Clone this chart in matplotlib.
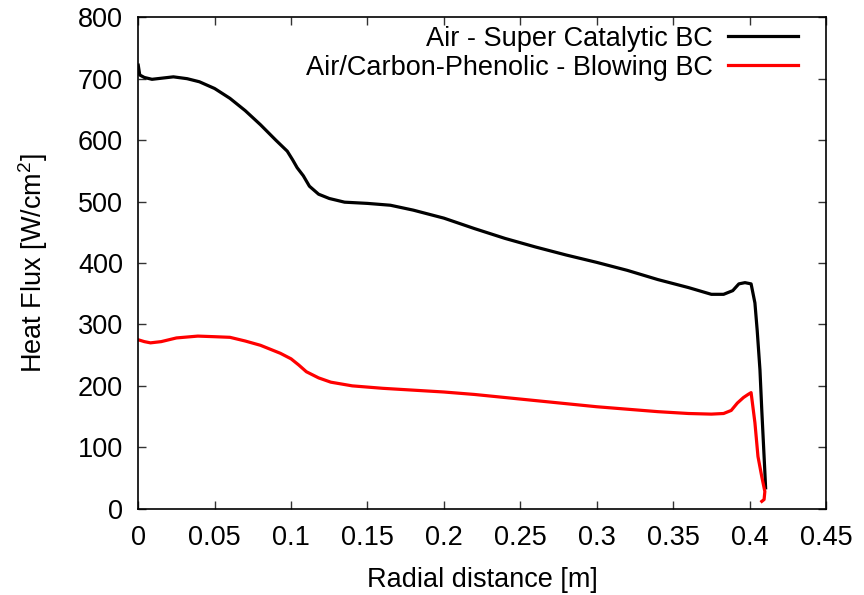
import matplotlib
matplotlib.use("Agg")
import matplotlib.pyplot as plt

plt.rcParams['font.family'] = ['Liberation Sans', 'DejaVu Sans']
plt.rcParams['mathtext.fontset'] = 'custom'
plt.rcParams['mathtext.rm'] = 'Liberation Sans'

# Air - Super Catalytic BC
air_x = [0.0, 0.001, 0.004, 0.009, 0.016, 0.023, 0.032, 0.04, 0.05, 0.06, 0.07,
         0.08, 0.09, 0.0975, 0.101, 0.104, 0.108, 0.112, 0.118, 0.125, 0.135,
         0.15, 0.165, 0.18, 0.2, 0.22, 0.24, 0.26, 0.28, 0.30, 0.32, 0.34,
         0.36, 0.375, 0.383, 0.389, 0.393, 0.397, 0.401, 0.4035, 0.405,
         0.4068, 0.408, 0.410, 0.4105]
air_q = [722, 706, 702, 699, 701, 703, 700, 695, 684, 668, 648,
         625, 600, 582, 568, 555, 542, 525, 512, 505, 499,
         497, 494, 486, 473, 456, 440, 426, 413, 401, 388, 373,
         360, 349, 349, 355, 366, 368, 366, 335, 290,
         226, 160, 60, 34]

# Air/Carbon-Phenolic - Blowing BC
blow_x = [0.0, 0.004, 0.008, 0.015, 0.025, 0.039, 0.05, 0.06, 0.07, 0.08, 0.093,
          0.1, 0.105, 0.11, 0.118, 0.126, 0.14, 0.16, 0.18, 0.2, 0.22,
          0.24, 0.26, 0.28, 0.30, 0.32, 0.34, 0.36, 0.375, 0.383, 0.388,
          0.392, 0.396, 0.399, 0.401, 0.4035, 0.4055, 0.408, 0.410, 0.4095,
          0.408]
blow_q = [275, 272, 270, 272, 278, 281, 280, 279, 273, 266, 253,
          244, 234, 223, 213, 206, 200, 196, 193, 190, 186,
          181, 176, 171, 166, 162, 158, 155, 154, 155, 160,
          172, 181, 186, 189, 140, 85, 52, 28, 15, 12]

fig = plt.figure(figsize=(8.64, 5.95), dpi=100)
ax = fig.add_axes([0.16, 0.145, 0.796, 0.826])

ax.plot(air_x, air_q, color='black', lw=2.3, label='Air - Super Catalytic BC')
ax.plot(blow_x, blow_q, color='red', lw=2.3, label='Air/Carbon-Phenolic - Blowing BC')

ax.set_xlim(0, 0.45)
ax.set_ylim(0, 800)
xt = [0, 0.05, 0.1, 0.15, 0.2, 0.25, 0.3, 0.35, 0.4, 0.45]
ax.set_xticks(xt)
ax.set_xticklabels(['0', '0.05', '0.1', '0.15', '0.2', '0.25', '0.3', '0.35', '0.4', '0.45'])
ax.set_yticks(range(0, 801, 100))
ax.tick_params(direction='in', top=True, right=True, length=6, width=1,
               labelsize=19.5, color='#333333')
ax.tick_params(axis='x', pad=12)
ax.tick_params(axis='y', pad=11)
for s in ax.spines.values():
    s.set_linewidth(1.2)

ax.set_xlabel('Radial distance [m]', fontsize=19.5, labelpad=11)
ax.set_ylabel('Heat Flux [W/cm$^2$]', fontsize=19.5, labelpad=20)

leg = ax.legend(loc='upper right', frameon=False, markerfirst=False, fontsize=19.5,
                handlelength=2.6, handletextpad=0.55, borderaxespad=0.0,
                labelspacing=0.12, bbox_to_anchor=(0.975, 1.005))
for t in leg.get_texts():
    t.set_ha('right')

fig.savefig('out.png', dpi=100)
